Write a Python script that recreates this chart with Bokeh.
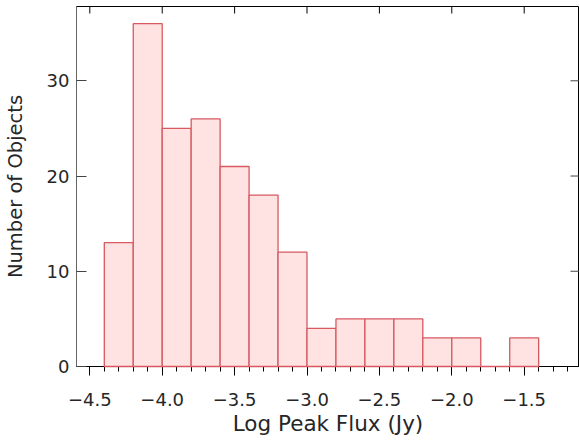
import math
from bokeh.plotting import figure
from bokeh.models import LinearAxis, SingleIntervalTicker, Range1d, CustomJSTickFormatter
from bokeh.embed import file_html
from bokeh.resources import INLINE

# Histogram data (log peak flux bins, width 0.2)
bin_left = [-4.4, -4.2, -4.0, -3.8, -3.6, -3.4, -3.2, -3.0, -2.8, -2.6, -2.4, -2.2, -2.0, -1.8, -1.6]
bin_right = [-4.2, -4.0, -3.8, -3.6, -3.4, -3.2, -3.0, -2.8, -2.6, -2.4, -2.2, -2.0, -1.8, -1.6, -1.4]
counts = [13, 36, 25, 26, 21, 18, 12, 4, 5, 5, 5, 3, 3, 0, 3]
x_ticks = [-4.5, -4.0, -3.5, -3.0, -2.5, -2.0, -1.5]
y_ticks = [0, 10, 20, 30]
x_title = "Log Peak Flux (Jy)"
y_title = "Number of Objects"

FONT = "DejaVu Sans"
TXT = "#262626"

xr = Range1d(-4.592, -1.118)
yrng = Range1d(0, 37.8)

p = figure(width=579, height=440, output_backend="svg", toolbar_location=None,
           x_range=xr, y_range=yrng,
           x_axis_location=None, y_axis_location=None,
           min_border_left=76, min_border_right=0, min_border_top=6, min_border_bottom=74)
p.outline_line_color = "black"
p.outline_line_width = 1
p.xgrid.visible = False
p.ygrid.visible = False
p.background_fill_color = "white"
p.border_fill_color = "white"

r = p.quad(left=bin_left, right=bin_right, bottom=0, top=counts,
           fill_color="#ffe2e2", line_color="#d65a60", line_width=1.3)
r.level = "overlay"

# inward ticks on the top and right frame edges
p.ray(x=x_ticks, y=[yrng.end] * len(x_ticks), length=7, length_units="screen",
      angle=-math.pi / 2, line_color="black", line_width=1)
p.ray(x=[xr.end] * len(y_ticks), y=y_ticks, length=9, length_units="screen",
      angle=math.pi, line_color="#444444", line_width=1)

fmt = CustomJSTickFormatter(code="""
    return (tick < -1e-9 ? "\u2212" : "") + Math.abs(tick).toFixed(1);
""")

# bottom axis
xb = LinearAxis(ticker=SingleIntervalTicker(interval=0.5, num_minor_ticks=5),
                formatter=fmt, axis_label=x_title)
xb.major_tick_in = 0
xb.major_tick_out = 9
xb.minor_tick_in = 0
xb.minor_tick_out = 5
xb.axis_line_color = "black"
xb.major_tick_line_color = "black"
xb.minor_tick_line_color = "black"
xb.major_label_text_font = FONT
xb.major_label_text_font_size = "18px"
xb.major_label_text_color = TXT
xb.major_label_standoff = 17
xb.axis_label_text_font = FONT
xb.axis_label_text_font_size = "21.5px"
xb.axis_label_text_font_style = "normal"
xb.axis_label_text_color = TXT
xb.axis_label_standoff = 2
p.add_layout(xb, "below")

# left axis
yl = LinearAxis(ticker=SingleIntervalTicker(interval=10, num_minor_ticks=0),
                axis_label=y_title)
yl.major_tick_in = 10
yl.major_tick_out = 0
yl.minor_tick_line_color = None
yl.axis_line_color = "#666666"
yl.major_tick_line_color = "#444444"
yl.major_label_text_font = FONT
yl.major_label_text_font_size = "18px"
yl.major_label_text_color = TXT
yl.major_label_standoff = 7
yl.axis_label_text_font = FONT
yl.axis_label_text_font_size = "19.5px"
yl.axis_label_text_font_style = "normal"
yl.axis_label_text_color = TXT
yl.axis_label_standoff = 17
p.add_layout(yl, "left")

open("out.html", "w").write(file_html(p, INLINE))
